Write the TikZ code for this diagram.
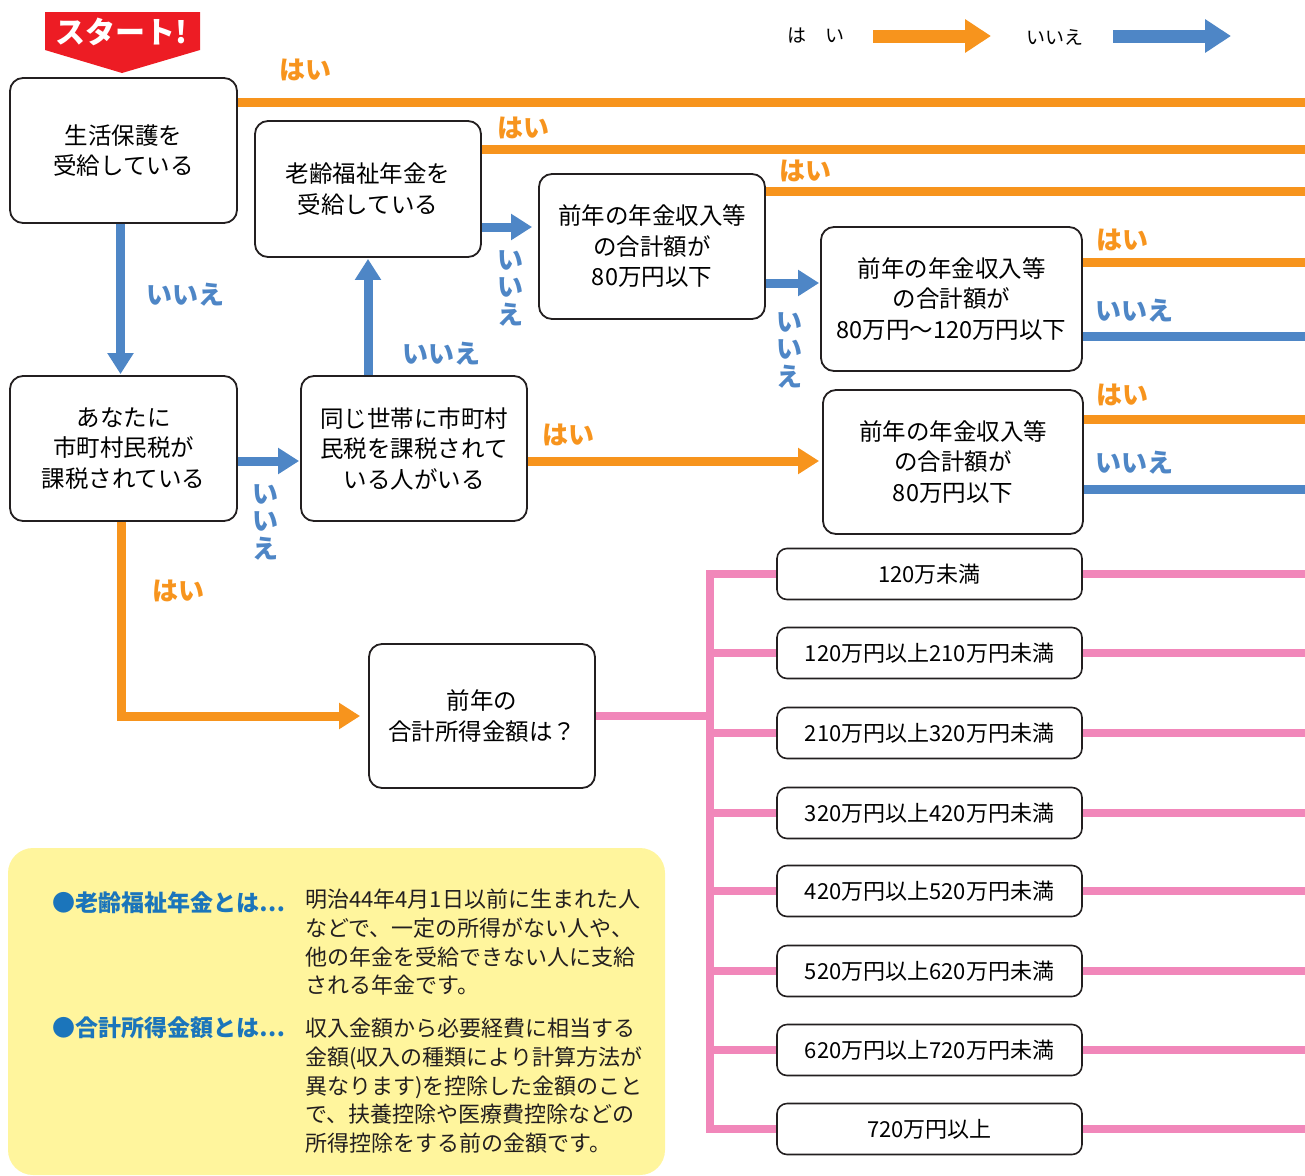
\documentclass[tikz,border=0pt]{standalone}
\usepackage{fontspec}
\setmainfont{Noto Sans CJK JP}
\usetikzlibrary{arrows.meta,calc}
\definecolor{cOr}{HTML}{F7941D}
\definecolor{cBl}{HTML}{4E86C6}
\definecolor{cPk}{HTML}{F187BA}
\definecolor{cRd}{HTML}{ED1C24}
\definecolor{cYl}{HTML}{FFF59D}
\definecolor{cBd}{HTML}{231F20}
\definecolor{cLb}{HTML}{1B75BB}
\begin{document}
\begin{tikzpicture}[x=1pt,y=-1pt,
  box/.style={draw=cBd, line width=1.8pt, rounded corners=13pt, align=center, inner sep=0pt, fill=white,
    font=\fontsize{23.5}{30.5}\selectfont},
  ibox/.style={draw=cBd, line width=1.6pt, rounded corners=10pt, minimum width=305pt, minimum height=51pt,
    inner sep=0pt, fill=white, font=\fontsize{22}{26}\selectfont},
  yesline/.style={draw=cOr, line width=9pt},
  noline/.style={draw=cBl, line width=9pt},
  tipA/.style={-{Triangle[length=21pt,width=25pt]}},
  pkline/.style={draw=cPk, line width=8pt},
  ylab/.style={text=cOr, font=\bfseries\fontsize{26}{28}\selectfont, inner sep=0pt},
  nlab/.style={text=cBl, font=\bfseries\fontsize{26}{28}\selectfont, inner sep=0pt},
  vlab/.style={text=cBl, align=center, font=\bfseries\fontsize{26}{27.5}\selectfont, inner sep=0pt},
  ytext/.style={anchor=north west, align=left, inner sep=0pt, font=\fontsize{22}{28.7}\selectfont, text=cBd},
  ytitle/.style={anchor=west, inner sep=0pt, text=cLb, font=\bfseries\fontsize{23}{26}\selectfont},
]
\useasboundingbox (0,0) rectangle (1305,1175);

% right edge coordinates
\coordinate (eR) at (1305,0);
\coordinate (tr) at (710,0);

% yellow explanation box
\fill[cYl, rounded corners=25pt] (8,848) rectangle (665,1175);
\node[ytitle] (t1) at (52,903) {●老齢福祉年金とは⋯};
\node[ytext] (x1) at (305,889) {明治44年4月1日以前に生まれた人\\などで、一定の所得がない人や、\\他の年金を受給できない人に支給\\される年金です。};
\node[ytitle] (t2) at (52,1028) {●合計所得金額とは⋯};
\node[ytext] (x2) at (305,1018) {収入金額から必要経費に相当する\\金額(収入の種類により計算方法が\\異なります)を控除した金額のこと\\で、扶養控除や医療費控除などの\\所得控除をする前の金額です。};

% start banner
\fill[cRd] (45,12) -- (200,12) -- (200,50) -- (122,73) -- (45,50) -- cycle;
\node[text=white, font=\bfseries\fontsize{30}{32}\selectfont, inner sep=0pt] (start) at (121,32) {スタート!};

% legend
\node[font=\fontsize{19}{22}\selectfont, inner sep=0pt] (lgY) at (816,36) {は　い};
\coordinate (lgY1) at (873,36);
\coordinate (lgY2) at (991,36);
\draw[draw=cOr, line width=13pt, -{Triangle[length=26pt,width=32pt]}] (lgY1) -- (lgY2);
\node[font=\fontsize{19}{22}\selectfont, inner sep=0pt] (lgN) at (1055,37) {いいえ};
\coordinate (lgN1) at (1113,36);
\coordinate (lgN2) at (1231,36);
\draw[draw=cBl, line width=13pt, -{Triangle[length=26pt,width=32pt]}] (lgN1) -- (lgN2);

% main boxes
\node[box, minimum width=227pt, minimum height=145pt] (A) at (123.5,150.5) {生活保護を\\受給している};
\node[box, minimum width=227pt, minimum height=145pt] (B) at (123.5,448.5) {あなたに\\市町村民税が\\課税されている};
\node[box, minimum width=226pt, minimum height=145pt] (C) at (414,448.5) {同じ世帯に市町村\\民税を課税されて\\いる人がいる};
\node[box, minimum width=226pt, minimum height=136pt] (D) at (368,189) {老齢福祉年金を\\受給している};
\node[box, minimum width=226pt, minimum height=145pt] (E) at (652,246.5) {前年の年金収入等\\の合計額が\\80万円以下};
\node[box, minimum width=261pt, minimum height=144pt] (F) at (951.5,299) {前年の年金収入等\\の合計額が\\80万円～120万円以下};
\node[box, minimum width=260pt, minimum height=144pt] (G) at (953,462) {前年の年金収入等\\の合計額が\\80万円以下};
\node[box, minimum width=226pt, minimum height=144pt] (H) at (482,716) {前年の\\合計所得金額は？};

% yes / no lines to the right edge (yshift is canvas-up, so positive = higher)
\draw[yesline] ([yshift=48.5]A.east) -- ([yshift=48.5]A.east -| eR);
\draw[yesline] ([yshift=40]D.east) -- ([yshift=40]D.east -| eR);
\draw[yesline] ([yshift=55.5]E.east) -- ([yshift=55.5]E.east -| eR);
\draw[yesline] ([yshift=37]F.east) -- ([yshift=37]F.east -| eR);
\draw[noline] ([yshift=-37]F.east) -- ([yshift=-37]F.east -| eR);
\draw[yesline] ([yshift=43]G.east) -- ([yshift=43]G.east -| eR);
\draw[noline] ([yshift=-27]G.east) -- ([yshift=-27]G.east -| eR);

% flow arrows
\draw[noline, tipA, shorten >=1pt] ([xshift=-3]A.south) -- ([xshift=-3]B.north);
\draw[noline, tipA, shorten >=1pt] ([yshift=-12.5]B.east) -- ([yshift=-12.5]C.west |- B.east);
\draw[noline, tipA, shorten >=1pt] (C.north -| D.south) -- (D.south);
\draw[noline, tipA, shorten >=6pt] ([yshift=-38]D.east) -- ([yshift=-38]D.east -| E.west);
\draw[noline, tipA, shorten >=1pt] ([yshift=-36.5]E.east) -- ([yshift=-36.5]E.east -| F.west);
\draw[yesline, tipA, shorten >=3pt] ([yshift=-12.5]C.east) -- ([yshift=-12.5]C.east -| G.west);
\draw[yesline, tipA, shorten >=8pt] ([xshift=-2]B.south) |- (H.west);

% income boxes
\draw[pkline] (H.east) -- (H.east -| tr);
\foreach \i/\yy/\t in {1/574/120万未満, 2/653/120万円以上210万円未満, 3/733/210万円以上320万円未満,
  4/813/320万円以上420万円未満, 5/891/420万円以上520万円未満, 6/971/520万円以上620万円未満,
  7/1050/620万円以上720万円未満, 8/1129/720万円以上} {
  \node[ibox] (I\i) at (929.5,\yy) {\t};
  \draw[pkline] (I\i.west -| tr) -- (I\i.west);
  \draw[pkline] (I\i.east) -- (I\i.east -| eR);
}
\draw[pkline, line cap=rect] (I1.west -| tr) -- (I8.west -| tr);

% labels
\node[ylab] (y1) at (305,70) {はい};
\node[ylab] (y2) at (523,128) {はい};
\node[ylab] (y3) at (805,171) {はい};
\node[ylab] (y4) at (1122,240) {はい};
\node[ylab] (y5) at (1122,395) {はい};
\node[ylab] (y6) at (568,435) {はい};
\node[ylab] (y7) at (178,591) {はい};
\node[nlab] (n1) at (185,295) {いいえ};
\node[nlab] (n2) at (441,354) {いいえ};
\node[nlab] (n3) at (1134,311) {いいえ};
\node[nlab] (n4) at (1134,463) {いいえ};
\node[vlab] (v1) at (265,522) {い\\い\\え};
\node[vlab] (v2) at (510,288) {い\\い\\え};
\node[vlab] (v3) at (789,350) {い\\い\\え};
\end{tikzpicture}
\end{document}
